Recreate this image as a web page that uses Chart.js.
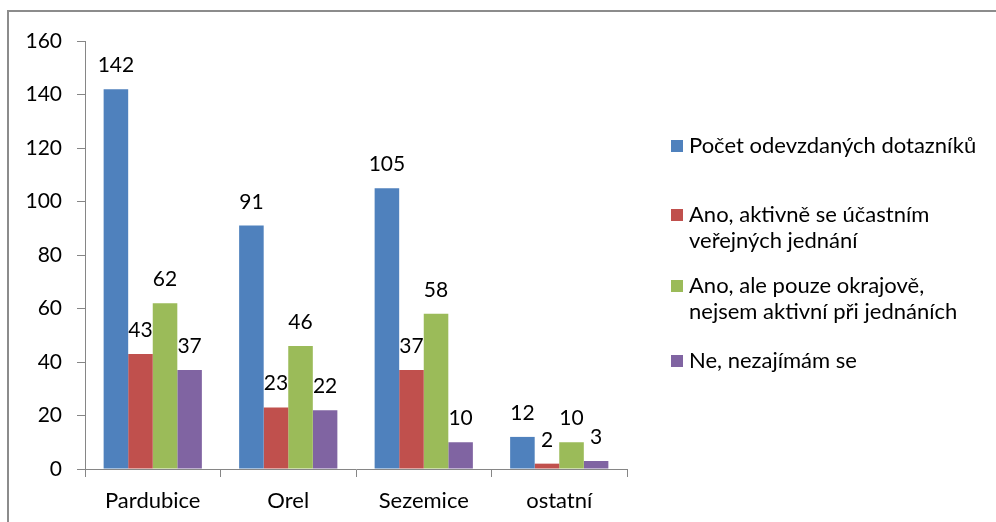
<!DOCTYPE html>
<html>
<head>
<meta charset="utf-8">
<script src="https://cdn.jsdelivr.net/npm/chart.js@4.4.1/dist/chart.umd.min.js"></script>
<style>
  html, body { margin: 0; padding: 0; background: #fff; }
  #wrap { position: relative; width: 996px; height: 522px; overflow: hidden; }
  #frame {
    position: absolute; left: 7px; top: 10px; width: 1100px; height: 600px;
    border-top: 2px solid #8c8c8c; border-left: 2px solid #8c8c8c;
  }
  #chart { position: absolute; left: 0; top: 0; }
  #legend { position: absolute; left: 671px; top: 0; font-family: Lato, sans-serif; font-size: 22px; color: #000; }
  .item { position: absolute; left: 0; white-space: nowrap; line-height: 26px; }
  .item .box { position: absolute; left: 0; top: 8px; width: 12px; height: 12px; }
  .item .txt { position: absolute; left: 18px; top: 0; }
  .item:nth-child(1) { top: 132px; }
  .item:nth-child(2) { top: 201px; }
  .item:nth-child(3) { top: 272px; }
  .item:nth-child(4) { top: 347px; }
</style>
</head>
<body>
<div id="wrap">
  <div id="frame"></div>
  <canvas id="chart" width="996" height="522"></canvas>
  <div id="legend"></div>
</div>
<script>
var categories = ['Pardubice', 'Orel', 'Sezemice', 'ostatní'];

var seriesNames = [
    ['Počet odevzdaných dotazníků'],
    ['Ano, aktivně se účastním', 'veřejných jednání'],
    ['Ano, ale pouze okrajově,', 'nejsem aktivní při jednáních'],
    ['Ne, nezajímám se']
];

var submitted = [142, 91, 105, 12];
var activeYes = [43, 23, 37, 2];
var marginalYes = [62, 46, 58, 10];
var notInterested = [37, 22, 10, 3];

var yTicks = [0, 20, 40, 60, 80, 100, 120, 140, 160];

var colors = ['#4f81bd', '#c0504d', '#9bbb59', '#8064a2'];
var seriesValues = [submitted, activeYes, marginalYes, notInterested];

var FONT = 'Lato, sans-serif';
var axisColor = '#868686';

// value labels above every bar
var barLabels = {
    id: 'barLabels',
    afterDatasetsDraw: function(chart) {
        var ctx = chart.ctx;
        ctx.save();
        ctx.font = '21px ' + FONT;
        ctx.fillStyle = '#000';
        ctx.textAlign = 'center';
        ctx.textBaseline = 'alphabetic';
        chart.data.datasets.forEach(function(ds, i) {
            chart.getDatasetMeta(i).data.forEach(function(bar, j) {
                ctx.fillText(String(ds.data[j]), bar.x, bar.y - 17);
            });
        });
        ctx.restore();
    }
};

var datasets = seriesValues.map(function(vals, i) {
    return {
        label: seriesNames[i].join(' '),
        data: vals,
        backgroundColor: colors[i],
        borderWidth: 0,
        categoryPercentage: 0.725,
        barPercentage: 1.0
    };
});

new Chart(document.getElementById('chart').getContext('2d'), {
    type: 'bar',
    data: {
        labels: categories,
        datasets: datasets
    },
    options: {
        responsive: false,
        animation: false,
        layout: {
            padding: { top: 41, right: 369, bottom: 0, left: 0 }
        },
        plugins: {
            legend: { display: false },
            tooltip: { enabled: false }
        },
        scales: {
            x: {
                offset: true,
                grid: {
                    offset: true,
                    drawOnChartArea: false,
                    drawTicks: true,
                    tickLength: 8,
                    color: axisColor
                },
                border: { display: true, color: axisColor, width: 1 },
                ticks: {
                    color: '#000',
                    padding: 11,
                    font: { family: FONT, size: 22 }
                },
                afterFit: function(scale) { scale.height = 53; }
            },
            y: {
                min: 0,
                max: 160,
                afterBuildTicks: function(scale) {
                    scale.ticks = yTicks.map(function(v) { return { value: v }; });
                },
                grid: {
                    drawOnChartArea: false,
                    drawTicks: true,
                    tickLength: 8,
                    color: axisColor
                },
                border: { display: true, color: axisColor, width: 1 },
                ticks: {
                    color: '#000',
                    padding: 15,
                    font: { family: FONT, size: 21 }
                },
                afterFit: function(scale) { scale.width = 85; }
            }
        }
    },
    plugins: [barLabels]
});

// legend built from the same series arrays
var legend = document.getElementById('legend');
seriesNames.forEach(function(lines, i) {
    var item = document.createElement('div');
    item.className = 'item';
    var box = document.createElement('div');
    box.className = 'box';
    box.style.background = colors[i];
    var txt = document.createElement('div');
    txt.className = 'txt';
    txt.innerHTML = lines.join('<br>');
    item.appendChild(box);
    item.appendChild(txt);
    legend.appendChild(item);
});
</script>
</body>
</html>
